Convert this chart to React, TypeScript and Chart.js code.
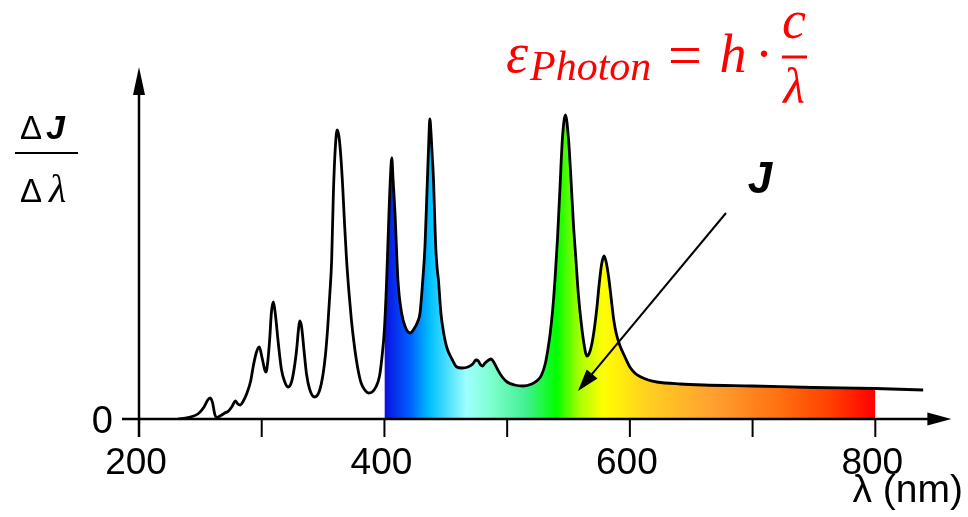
import React, { useEffect, useRef } from 'react';
import { Chart, registerables } from 'chart.js';

Chart.register(...registerables);

// Wavelength samples (nm) and relative spectral intensity ΔJ/Δλ
const wavelengthNm = [
  232, 240, 248, 253, 256, 258, 260, 261.5, 263, 266, 270, 273, 276, 278.5, 280.5, 282.5, 285, 288, 291, 293,
  295.5, 298, 300.5, 302.5, 303.5, 305, 306.5, 308, 309.5, 311, 313.5, 316, 318.5, 321.5, 324.5, 327, 328.5, 330,
  331, 332.5, 334.5, 336.5, 339, 343, 347, 350, 352, 353.8, 355.5, 357, 358.4, 360, 361.5, 363, 364.5, 366, 367.5,
  369, 371, 373, 375, 377, 379, 381, 384, 387, 390, 393, 396, 398, 400, 401.8, 403.7, 405, 406, 407,
  408.6, 411, 414, 417, 421, 424, 427, 429, 431, 433, 435, 436.2, 437, 438, 439, 440, 441, 441.8, 443, 444, 446,
  448, 450.7, 455, 459, 463, 468, 472, 474.5, 476.5, 478.5, 480, 482, 485, 487, 489, 492, 496, 500, 506, 513, 520,
  525, 528, 531, 533, 535, 537, 539, 541, 543, 545, 547.5, 550, 552, 554, 556, 558, 560, 562, 565, 567, 569, 571,
  573, 575, 577, 579, 581, 583, 585, 587, 589, 592, 596, 600, 604, 609, 615, 622, 641, 660, 700, 750, 800, 839,
];
const intensity = [
  0, 1.5, 5, 12, 19, 21, 16, 6, 1.5, 3, 6, 8, 13, 18, 15, 14, 18, 26, 38, 52,
  66, 72, 60, 49, 47, 58, 80, 108, 117, 106, 76, 50, 38, 32, 38, 55, 70, 90,
  98, 92, 68, 45, 30, 22, 28, 45, 65, 92, 125, 159, 226, 272, 289, 282, 262, 232, 195,
  162, 128, 100, 78, 60, 46, 36, 29, 26, 27, 32, 43, 62, 90, 139, 206, 245, 261, 240,
  206, 139, 106, 92, 86, 90, 97, 106, 135, 172, 239, 280, 300, 285, 262, 239, 200, 172, 150, 139, 106,
  88, 72, 60, 52, 51, 52, 55, 59, 58, 54, 53, 56, 59, 60, 57, 50, 42, 37, 34, 33, 35,
  39, 44, 55, 68, 85, 108, 140, 180, 230, 280, 304, 280, 240, 195, 160, 125, 100, 80, 63, 66, 75, 90,
  110, 135, 155, 163, 155, 139, 118, 98, 85, 73, 62, 52, 46, 42, 39, 37, 35, 34, 33, 31.5, 30.5, 29,
];

const majorTicks = [200, 400, 600, 800];
const minorTicks = [300, 500, 700];
const visibleRange = [400, 800];
const spectrumStopsNm = [400, 421, 437, 467, 486, 516, 540, 559, 578, 614, 668, 722, 763, 800];
const spectrumColors = [
  '#0a10e0', '#0060ff', '#00c0ff', '#a0ffff', '#80ffd0', '#40f090', '#00ff00',
  '#a8ff00', '#ffff00', '#ffd020', '#ffa030', '#ff7010', '#ff4000', '#ff0000',
];

const W = 968;
const H = 517;

function arrowHead(ctx: CanvasRenderingContext2D, fx: number, fy: number, tx: number, ty: number, len: number, half: number) {
  const dx = tx - fx;
  const dy = ty - fy;
  const L = Math.hypot(dx, dy);
  const ux = dx / L;
  const uy = dy / L;
  const bx = tx - ux * len;
  const by = ty - uy * len;
  ctx.beginPath();
  ctx.moveTo(tx, ty);
  ctx.lineTo(bx - uy * half, by + ux * half);
  ctx.lineTo(bx + uy * half, by - ux * half);
  ctx.closePath();
  ctx.fill();
}

const decorPlugin = {
  id: 'decor',
  afterDatasetsDraw(chart: any) {
    const ctx: CanvasRenderingContext2D = chart.ctx;
    const xs = chart.scales.x;
    const ys = chart.scales.y;
    const y0 = ys.getPixelForValue(0);
    const x200 = xs.getPixelForValue(200);
    ctx.save();
    ctx.strokeStyle = '#000';
    ctx.fillStyle = '#000';
    ctx.lineCap = 'butt';

    // x axis
    ctx.lineWidth = 2.5;
    ctx.beginPath();
    ctx.moveTo(x200 - 17, y0);
    ctx.lineTo(xs.right - 12, y0);
    ctx.stroke();
    arrowHead(ctx, x200, y0, xs.right, y0, 24, 6.5);

    // y axis
    ctx.beginPath();
    ctx.moveTo(x200, y0 + 18);
    ctx.lineTo(x200, ys.top + 14);
    ctx.stroke();
    arrowHead(ctx, x200, y0, x200, ys.top, 28, 6);

    // ticks
    ctx.lineWidth = 2;
    [...majorTicks, ...minorTicks].forEach((v) => {
      const px = xs.getPixelForValue(v);
      ctx.beginPath();
      ctx.moveTo(px, y0);
      ctx.lineTo(px, y0 + 18);
      ctx.stroke();
    });

    // tick labels
    ctx.font = '37px "Liberation Sans", Arial, sans-serif';
    ctx.textAlign = 'center';
    ctx.textBaseline = 'alphabetic';
    majorTicks.forEach((v) => {
      ctx.fillText(String(v), xs.getPixelForValue(v) - 3, 474);
    });
    ctx.font = '38px "Liberation Sans", Arial, sans-serif';
    ctx.textAlign = 'right';
    ctx.fillText('0', 113, 433);
    ctx.font = '39px "Liberation Sans", Arial, sans-serif';
    ctx.fillText('λ (nm)', 963, 502);

    // y label ΔJ / Δλ
    ctx.textAlign = 'left';
    ctx.font = '33px "Liberation Sans", Arial, sans-serif';
    ctx.fillText('Δ', 20, 139);
    ctx.font = 'italic bold 34px "Liberation Sans", Arial, sans-serif';
    ctx.fillText('J', 46, 139);
    ctx.fillRect(15, 152, 63, 2);
    ctx.font = '33px "Liberation Sans", Arial, sans-serif';
    ctx.fillText('Δ', 20, 202);
    ctx.font = 'italic 40px "Liberation Serif", serif';
    ctx.fillText('λ', 49, 202);

    // J annotation with arrow
    ctx.font = 'italic bold 44px "Liberation Sans", Arial, sans-serif';
    ctx.textAlign = 'center';
    ctx.fillText('J', 760, 193);
    ctx.lineWidth = 2;
    const ax0 = 726, ay0 = 213, ax1 = 578, ay1 = 391;
    const L = Math.hypot(ax1 - ax0, ay1 - ay0);
    ctx.beginPath();
    ctx.moveTo(ax0, ay0);
    ctx.lineTo(ax1 - ((ax1 - ax0) / L) * 15, ay1 - ((ay1 - ay0) / L) * 15);
    ctx.stroke();
    arrowHead(ctx, ax0, ay0, ax1, ay1, 22, 7);

    // formula ε_Photon = h · c/λ
    ctx.fillStyle = '#ff0000';
    ctx.textAlign = 'left';
    ctx.font = 'italic 56px "Liberation Serif", serif';
    ctx.fillText('ε', 506, 72);
    ctx.font = 'italic 42px "Liberation Serif", serif';
    ctx.fillText('Photon', 530, 80);
    ctx.font = '60px "Liberation Serif", serif';
    ctx.textAlign = 'center';
    ctx.fillText('=', 685, 75);
    ctx.font = 'italic 54px "Liberation Serif", serif';
    ctx.fillText('h', 733, 72);
    ctx.font = '54px "Liberation Serif", serif';
    ctx.fillText('·', 764, 72);
    ctx.font = 'italic 54px "Liberation Serif", serif';
    ctx.fillText('c', 794, 38);
    ctx.fillRect(782, 55.5, 25, 3);
    ctx.font = 'italic 50px "Liberation Serif", serif';
    ctx.fillText('λ', 794, 103);

    ctx.restore();
  },
};

export default function App() {
  const ref = useRef<HTMLCanvasElement | null>(null);

  useEffect(() => {
    document.body.style.margin = '0';
    const canvas = ref.current;
    if (!canvas) return;
    const linePoints = wavelengthNm.map((x, i) => ({ x, y: intensity[i] }));
    const fillPoints = linePoints.filter((p) => p.x >= visibleRange[0] && p.x <= visibleRange[1]);

    const chart = new Chart(canvas, {
      type: 'line',
      data: {
        datasets: [
          {
            data: linePoints,
            borderColor: '#000',
            borderWidth: 2.8,
            pointRadius: 0,
            fill: false,
            cubicInterpolationMode: 'monotone',
            borderJoinStyle: 'round',
          },
          {
            data: fillPoints,
            borderWidth: 0,
            borderColor: 'rgba(0,0,0,0)',
            pointRadius: 0,
            fill: 'origin',
            cubicInterpolationMode: 'monotone',
            backgroundColor: (c: any) => {
              const ch = c.chart;
              if (!ch.chartArea) return 'rgba(0,0,0,0)';
              const xs = ch.scales.x;
              const x0 = xs.getPixelForValue(visibleRange[0]);
              const x1 = xs.getPixelForValue(visibleRange[1]);
              const g = ch.ctx.createLinearGradient(x0, 0, x1, 0);
              spectrumStopsNm.forEach((nm, i) => {
                g.addColorStop((nm - visibleRange[0]) / (visibleRange[1] - visibleRange[0]), spectrumColors[i]);
              });
              return g;
            },
          },
        ],
      },
      options: {
        responsive: false,
        animation: false,
        devicePixelRatio: 1,
        layout: { padding: { left: 139, right: 16.6, top: 67, bottom: 98 } },
        scales: {
          x: { type: 'linear', min: 200, max: 862, display: false },
          y: { type: 'linear', min: 0, max: 352, display: false },
        },
        plugins: {
          legend: { display: false },
          tooltip: { enabled: false },
        },
      },
      plugins: [decorPlugin],
    } as any);

    return () => chart.destroy();
  }, []);

  return (
    <div style={{ width: W, height: H, background: '#fff' }}>
      <canvas ref={ref} width={W} height={H} style={{ display: 'block' }} />
    </div>
  );
}
